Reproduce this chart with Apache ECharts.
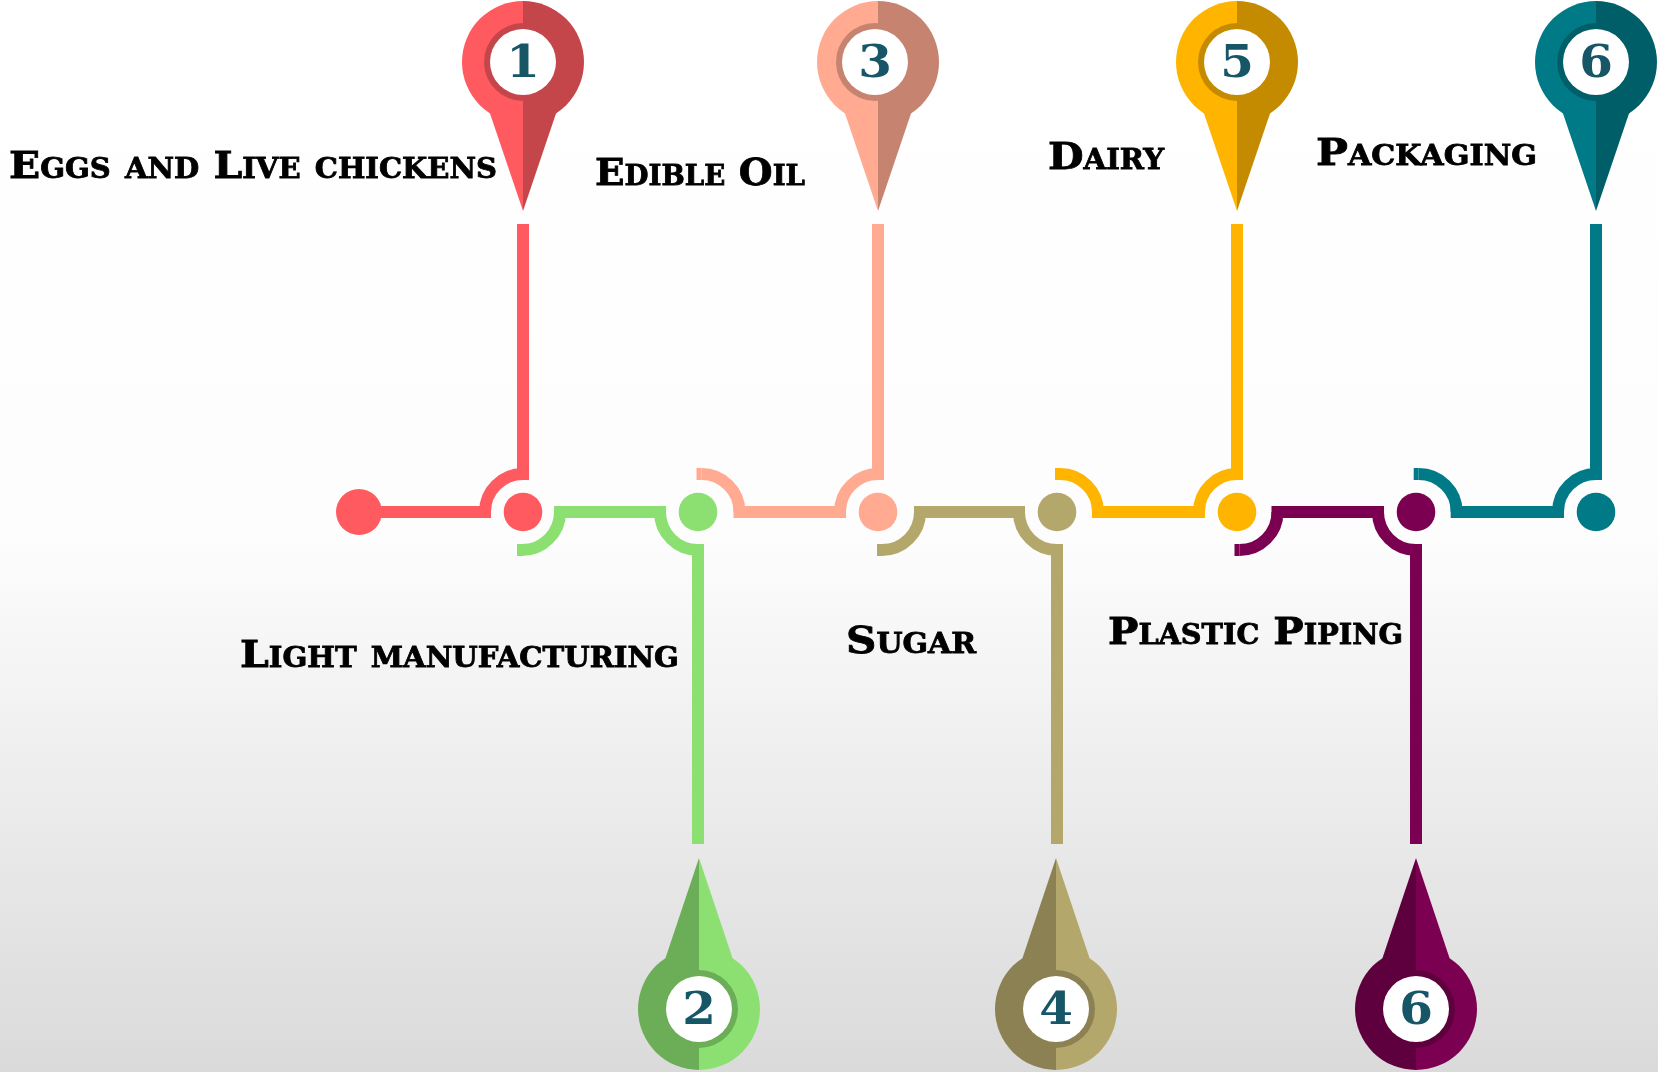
<!DOCTYPE html>
<html>
<head>
<meta charset="utf-8">
<title>Timeline</title>
<script src="https://cdn.jsdelivr.net/npm/echarts@6/dist/echarts.min.js"></script>
<style>
  html, body { margin: 0; padding: 0; }
  #main { width: 1658px; height: 1072px; }
</style>
</head>
<body>
<div id="main"></div>
<script>
var stepNames = ['Eggs and Live chickens', 'Light manufacturing', 'Edible Oil', 'Sugar', 'Dairy', 'Plastic Piping', 'Packaging'];
var stepNumbers = ['1', '2', '3', '4', '5', '6', '6'];
// where each node sits along the line (axis units)
var stepX = [523, 698, 878, 1057, 1237, 1416, 1596];
// -1 pin above the line, 1 pin below
var stepSide = [-1, 1, -1, 1, -1, 1, -1];
// centre of the bend that leaves each node, the artwork is not quite on the node
var bendX = [522, 701.5, 882, 1060, 1239.5, 1418.7];
var pinX = [523, 699, 878, 1056, 1237, 1416, 1596];
var holeX = [523, 699, 875, 1056, 1237, 1416, 1596];
var startX = 359;
var lineY = 512;

var labelX = [9, 240, 595, 846, 1048, 1108, 1316];
var labelY = [168, 657, 175, 643, 159, 634, 155];
var labelWidth = [488, 439, 210, 130, 116, 295, 221];

var lightColors = ['#ff5a5f', '#8ce071', '#ffaa91', '#b4a76c', '#ffb400', '#7b0051', '#007a87'];
var darkColors = ['#c5464a', '#6cad57', '#c58370', '#8b8153', '#c58b00', '#5f003e', '#005e68'];

var labelFont = 'small-caps bold 38px "DejaVu Serif"';
var numberFont = 'bold 44px "DejaVu Serif"';

var measure = document.createElement('canvas').getContext('2d');
function labelScale(i) {
    measure.font = labelFont;
    return labelWidth[i] / measure.measureText(stepNames[i]).width;
}

function line(x1, y1, x2, y2, color) {
    return { type: 'line', shape: { x1: x1, y1: y1, x2: x2, y2: y2 }, style: { stroke: color, lineWidth: 12 } };
}
function arc(cx, cy, from, to, color) {
    return {
        type: 'arc',
        shape: { cx: cx, cy: cy, r: 38, startAngle: from, endAngle: to, clockwise: true },
        style: { stroke: color, fill: null, lineWidth: 12 }
    };
}
function halfDisc(cx, cy, left, color) {
    return {
        type: 'sector',
        shape: {
            cx: cx, cy: cy, r0: 0, r: 61,
            startAngle: left ? Math.PI / 2 : -Math.PI / 2,
            endAngle: left ? Math.PI * 1.5 : Math.PI / 2,
            clockwise: true
        },
        style: { fill: color }
    };
}

function renderStep(params, api) {
    var i = api.value(2);
    var p = api.coord([api.value(0), api.value(1)]);
    var x = p[0], y = p[1];
    var s = stepSide[i];
    var color = lightColors[i], dark = darkColors[i];
    var kids = [];
    var PI = Math.PI;

    // connector from the previous node into this one
    if (i === 0) {
        kids.push(line(api.coord([startX, lineY])[0], y, x - 32, y, color));
        kids.push({ type: 'circle', shape: { cx: api.coord([startX, lineY])[0], cy: y, r: 23 }, style: { fill: color } });
    } else {
        var bx = api.coord([bendX[i - 1], lineY])[0];
        kids.push(line(bx - 5, y + 38 * s, bx, y + 38 * s, color));
        kids.push(arc(bx, y, s > 0 ? 0 : -PI / 2, s > 0 ? PI / 2 : 0, color));
        kids.push(line(bx + 32, y, x - 32, y, color));
    }
    kids.push(arc(x, y, s > 0 ? PI / 2 : PI, s > 0 ? PI : PI * 1.5, color));

    // stem and pin
    var stemEnd = api.coord([0, s > 0 ? 844 : 224])[1];
    var cy = api.coord([0, s > 0 ? 1009 : 62])[1];
    var tip = api.coord([0, s > 0 ? 858 : 211])[1];
    var shoulder = api.coord([0, s > 0 ? 958 : 112])[1];
    var pin = api.coord([pinX[i], 0])[0];
    var hole = api.coord([holeX[i], 0])[0];
    kids.push(line(x, y + 32 * s, x, stemEnd, color));
    kids.push({ type: 'circle', shape: { cx: x, cy: y, r: 19.3 }, style: { fill: color } });

    var leftColor = s > 0 ? dark : color;
    var rightColor = s > 0 ? color : dark;
    kids.push(halfDisc(pin, cy, true, leftColor));
    kids.push(halfDisc(pin, cy, false, rightColor));
    kids.push({ type: 'polygon', shape: { points: [[pin - 33.5, shoulder], [pin, tip], [pin, cy]] }, style: { fill: leftColor } });
    kids.push({ type: 'polygon', shape: { points: [[pin + 33.5, shoulder], [pin, tip], [pin, cy]] }, style: { fill: rightColor } });
    kids.push({ type: 'circle', shape: { cx: hole, cy: cy, r: 39 }, style: { fill: dark } });
    kids.push({ type: 'circle', shape: { cx: hole, cy: cy, r: 33 }, style: { fill: '#ffffff' } });
    kids.push({
        type: 'text', x: hole, y: cy + 4, scaleX: 1.1,
        style: { text: stepNumbers[i], font: numberFont, fill: '#165667', align: 'center', verticalAlign: 'middle' }
    });

    // name
    var lp = api.coord([labelX[i], labelY[i]]);
    kids.push({
        type: 'text', x: lp[0], y: lp[1], scaleX: labelScale(i),
        style: { text: stepNames[i], font: labelFont, fill: '#000000', stroke: '#000000', lineWidth: 0.8, align: 'left', verticalAlign: 'middle' }
    });

    return { type: 'group', children: kids };
}

var myChart = echarts.init(document.getElementById('main'));

myChart.setOption({
    animation: false,
    backgroundColor: {
        type: 'linear', x: 0, y: 0, x2: 0, y2: 1,
        colorStops: [
            { offset: 0, color: '#ffffff' },
            { offset: 0.5, color: '#fdfdfd' },
            { offset: 1, color: '#dadada' }
        ]
    },
    grid: { left: 0, right: 0, top: 0, bottom: 0 },
    xAxis: { type: 'value', min: 0, max: 1658, show: false },
    yAxis: { type: 'value', min: 0, max: 1072, inverse: true, show: false },
    series: [
        {
            type: 'custom',
            clip: false,
            silent: true,
            renderItem: renderStep,
            encode: { x: 0, y: 1 },
            data: stepX.map(function (x, i) { return [x, lineY, i]; })
        }
    ]
});
</script>
</body>
</html>
